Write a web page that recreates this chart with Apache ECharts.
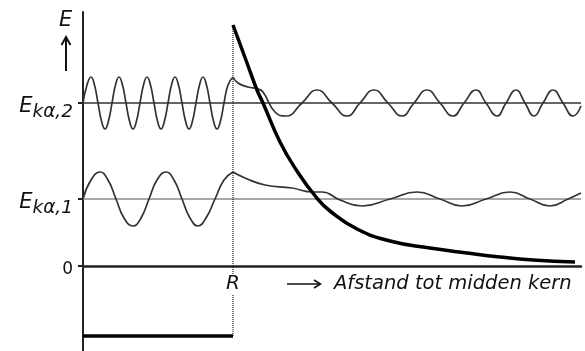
<!DOCTYPE html>
<html>
<head>
<meta charset="utf-8">
<script src="https://cdn.jsdelivr.net/npm/echarts@6/dist/echarts.min.js"></script>
<style>
  html, body { margin: 0; padding: 0; background: #fff; }
  #chart { width: 585px; height: 351px; }
</style>
</head>
<body>
<div id="chart"></div>
<script>
// afstand: R = 150, energie: 0 = bodem van de x-as
const R = 150;
const xMax = 498;
const levels = [0, 67, 163];
const levelLabels = ['0', 'kα,1', 'kα,2'];
const wellDepth = -70;

// golf bij E_kα,2
const wave2In = [[0,163],[4,181],[8,189],[11.5,181],[15,163],[18.5,145],[22,137],[25.5,145],[29,163],[32.5,181],
  [36,189],[39.5,181],[43,163],[46.5,145],[50,137],[53.5,145],[57,163],[60.5,181],[64,189],[67.5,181],
  [71,163],[74.5,145],[78,137],[81.5,145],[85,163],[88.5,181],[92,189],[95.5,181],[99,163],[102.5,145],
  [106,137],[109.5,145],[113,163],[116.5,181],[120,189],[123.5,181],[127,163],[130.5,145],[134,137],
  [137.5,145],[141,163],[145,181],[150,189]];
const wave2Out = [[150,189],[155,183],[165,179],[175,177],[180,174],[192,154],[203,150],[219,163],[234,176],
  [249,163],[264,150],[277,163],[291,176],[305,163],[319,150],[331,163],[344,176],[357,163],[370,150],
  [381,163],[393,176],[403,163],[414,150],[423,163],[433,176],[442,163],[451,150],[460,163],[470,176],
  [480,163],[490,150],[498,160]];

// golf bij E_kα,1
const wave1In = [[0,67],[8,86],[17,94],[25,86],[33,67],[41,48],[50,40],[58,48],[66,67],[74,86],[83,94],
  [91,86],[99,67],[107,48],[115,40],[123,48],[132,67],[141,86],[150,94]];
const wave1Out = [[150,94],[162,88],[182,81],[209,78],[230,74],[239,74],[257,66],[279,60],[307,67],[334,74],
  [357,67],[379,60],[403,67],[427,74],[447,67],[467,60],[485,67],[498,73]];

// coulombwal
const barrier = [[150,241],[164,203],[174,176],[180,163],[197,124],[214,95],[233,69],[247,55],[274,37],
  [307,25],[347,18],[384,13],[417,9],[450,6],[492,4]];

const font = '"DejaVu Sans", Verdana, sans-serif';
const ink = '#111';

const chart = echarts.init(document.getElementById('chart'));

function waveSeries(data) {
  return {
    type: 'line',
    data: data,
    showSymbol: false,
    smooth: 0.5,
    lineStyle: { color: '#333', width: 1.7 },
    silent: true,
    z: 3
  };
}

const option = {
  animation: false,
  grid: { left: 83, right: 4, top: 12, bottom: 0, containLabel: false, outerBoundsMode: 'none' },
  xAxis: {
    type: 'value',
    min: 0,
    max: xMax,
    splitLine: { show: false },
    axisTick: { show: false },
    axisLabel: { show: false },
    axisLine: { onZero: true, lineStyle: { color: '#222', width: 2.5 } }
  },
  yAxis: {
    type: 'value',
    min: -85,
    max: 254,
    splitLine: { show: false },
    axisLine: { show: true, lineStyle: { color: '#222', width: 2 } },
    axisTick: {
      customValues: levels,
      length: 5,
      lineStyle: { color: '#222', width: 2 }
    },
    axisLabel: {
      customValues: levels,
      margin: 10,
      padding: [7, 0, 0, 0],
      formatter: function (v) {
        const i = levels.indexOf(v);
        if (i === 0) return '{z|0}';
        return '{e|E}{s|' + levelLabels[i] + '}';
      },
      rich: {
        z: { fontFamily: font, fontSize: 17, color: ink },
        e: { fontFamily: font, fontSize: 21, fontStyle: 'italic', color: ink, verticalAlign: 'bottom' },
        s: { fontFamily: font, fontSize: 18.5, fontStyle: 'italic', color: ink, verticalAlign: 'bottom', padding: [0, 0, -5, 0] }
      }
    }
  },
  series: [
    {
      type: 'line',
      data: [[0, levels[1]], [xMax, levels[1]]],
      showSymbol: false,
      lineStyle: { color: '#8a8a8a', width: 1.6 },
      silent: true,
      z: 1
    },
    {
      type: 'line',
      data: [[0, levels[2]], [xMax, levels[2]]],
      showSymbol: false,
      lineStyle: { color: '#333', width: 1.3 },
      silent: true,
      z: 1
    },
    {
      type: 'line',
      data: [[R, barrier[0][1]], [R, wellDepth]],
      showSymbol: false,
      lineStyle: { color: '#222', width: 1.2, type: [1, 1] },
      silent: true,
      z: 2,
      markPoint: {
        silent: true,
        symbol: 'rect',
        symbolSize: [16, 20],
        symbolOffset: [0, 18],
        itemStyle: { color: '#fff' },
        label: {
          show: true,
          position: 'inside',
          formatter: 'R',
          fontFamily: font,
          fontStyle: 'italic',
          fontSize: 20,
          color: ink
        },
        data: [{ coord: [R, 0] }]
      }
    },
    waveSeries(wave2In),
    waveSeries(wave2Out),
    waveSeries(wave1In),
    waveSeries(wave1Out),
    {
      type: 'line',
      data: [[0, wellDepth], [R, wellDepth]],
      showSymbol: false,
      lineStyle: { color: '#000', width: 3.5 },
      silent: true,
      z: 4
    },
    {
      type: 'line',
      data: barrier,
      showSymbol: false,
      smooth: 0.5,
      lineStyle: { color: '#000', width: 3.5 },
      silent: true,
      z: 5
    }
  ],
  graphic: [
    { type: 'text', x: 59, y: 10, style: { text: 'E', font: 'italic 21px ' + font, fill: ink } },
    { type: 'line', shape: { x1: 66, y1: 71, x2: 66, y2: 38 }, style: { stroke: ink, lineWidth: 2 } },
    { type: 'polyline', shape: { points: [[61.5, 45], [66, 37], [70.5, 45]] }, style: { stroke: ink, lineWidth: 2, fill: null } },
    { type: 'line', shape: { x1: 287, y1: 284, x2: 320, y2: 284 }, style: { stroke: ink, lineWidth: 1.5 } },
    { type: 'polyline', shape: { points: [[314, 280], [320.5, 284], [314, 288]] }, style: { stroke: ink, lineWidth: 1.5, fill: null } },
    { type: 'text', x: 334, y: 274, style: { text: 'Afstand tot midden kern', font: 'italic 19.5px ' + font, fill: ink } }
  ]
};

chart.setOption(option);
</script>
</body>
</html>
